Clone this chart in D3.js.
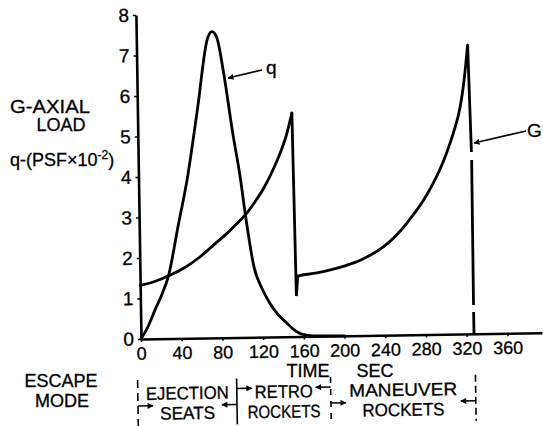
<!DOCTYPE html>
<html><head><meta charset="utf-8">
<script src="https://cdn.jsdelivr.net/npm/d3@7"></script>
<style>
html,body{margin:0;padding:0;background:#fff;}
svg{display:block;font-family:"Liberation Sans",Arial,sans-serif;}
text{fill:#000;stroke:#000;stroke-width:0.3px;}
</style></head><body>
<svg id="chart" width="543" height="426"></svg>
<script>
// ---- data ----
const xTicks = [0,40,80,120,160,200,240,280,320,360];
const yTicks = [0,1,2,3,4,5,6,7,8];
// dynamic pressure q (PSF x 10^-2) vs time (s)
const qSeries = [[0,0],[7,0.3],[14,0.7],[21,1.08],[28,1.55],[38,2.75],[48,3.95],[59,5.65],[70,7.4],[74.5,7.56],[79,7.42],[85.5,6.5],[93,5.1],[100,3.95],[105,2.92],[112,1.75],[120,1.18],[127,0.84],[135,0.55],[143.5,0.34],[150,0.18],[158,0.06],[170,0.01],[200,0]];
// G axial load vs time (s), in pieces
const gRise1 = [[0,1.32],[15,1.42],[28.4,1.55],[45,1.76],[60,2.02],[74,2.32],[85,2.55],[95,2.79],[105,3.04],[114,3.34],[123,3.68],[131,4.06],[139,4.5],[146,4.98],[151.7,5.52]];
const gDrop1 = [[151.7,5.52],[153.3,1.0],[155,1.49],[160,1.52]];
const gRise2 = [[160,1.52],[175,1.57],[190,1.65],[203,1.74],[215,1.84],[225,1.96],[236,2.12],[245,2.29],[255,2.53],[262,2.73],[269,2.95],[280,3.33],[289,3.71],[297,4.11],[303,4.47],[310,4.96],[317,5.59],[321,6.19],[325.4,7.13]];
const gDrop2 = [[325.4,7.13],[327.5,4.49],null,[327.6,4.29],[327.2,0.71],null,[327.2,0.54],[327.2,0]];
// escape-mode phases
const phaseBounds = [-4, 93.3, 185.6, 328];
const phaseTop = ["EJECTION","RETRO","MANEUVER"];
const phaseBottom = ["SEATS","ROCKETS","ROCKETS"];

// ---- drawing ----
const FONT = '"Liberation Sans", Arial, sans-serif';
const topWidths = [83, 58, 108];
const bottomWidths = [55, 73, 82];
const svg = d3.select("#chart");
const ox = 141, oy = 339, xMax = 394;
const x = d3.scaleLinear().domain([0, xMax]).range([ox, 542]);
const y = d3.scaleLinear().domain([0, 8]).range([oy, 15]);

const defs = svg.append("defs");
defs.append("marker").attr("id","ah").attr("viewBox","0 0 10 10")
  .attr("refX",9).attr("refY",5).attr("markerWidth",7).attr("markerHeight",6)
  .attr("markerUnits","userSpaceOnUse").attr("orient","auto")
  .append("path").attr("d","M0,0 L10,5 L0,10 z").attr("fill","#000");

const g = svg.append("g").attr("transform", `rotate(-0.9 ${ox} ${oy})`);

const gx = g.append("g").attr("transform", `translate(0,${oy})`)
  .call(d3.axisBottom(x).tickValues(xTicks).tickSize(3).tickSizeOuter(0).tickPadding(5));
gx.attr("font-size", 18).attr("font-family", FONT);
gx.select(".domain").attr("stroke-width", 2.6);
gx.selectAll(".tick line").attr("stroke-width", 1.5);

const gy = g.append("g").attr("transform", `translate(${ox},0)`)
  .call(d3.axisLeft(y).tickValues(yTicks).tickSize(3).tickSizeOuter(0).tickPadding(4));
gy.attr("font-size", 19).attr("font-family", FONT);
gy.select(".domain").attr("stroke-width", 2.6);
gy.selectAll(".tick line").attr("stroke-width", 1.5);

const smooth = d3.line().x(d => x(d[0])).y(d => y(d[1])).curve(d3.curveMonotoneX);
const straight = d3.line().defined(d => d).x(d => x(d[0])).y(d => y(d[1]));
const curveStyle = sel => sel.attr("fill","none").attr("stroke","#000").attr("stroke-width",2.8)
  .attr("stroke-linejoin","round").attr("stroke-linecap","round");

g.append("path").attr("d", smooth(qSeries)).call(curveStyle);
g.append("path").attr("d", smooth(gRise1)).call(curveStyle);
g.append("path").attr("d", straight(gDrop1)).call(curveStyle).attr("stroke-linejoin","miter");
g.append("path").attr("d", smooth(gRise2)).call(curveStyle);
g.append("path").attr("d", straight(gDrop2)).call(curveStyle).attr("stroke-linecap","butt");

// phases
const phases = g.append("g").attr("font-family", FONT).attr("font-size", 18);
const bDash = ["8,5", null, "6,6", "7,4"];
phaseBounds.forEach((b, i) => {
  phases.append("line").attr("x1", x(b)).attr("x2", x(b)).attr("y1", 380).attr("y2", 426)
    .attr("stroke","#000").attr("stroke-width",1.6).attr("stroke-dasharray", bDash[i]);
});
const arrowRowY = [406, 390, 406];
phaseTop.forEach((t, i) => {
  const a = x(phaseBounds[i]), b = x(phaseBounds[i+1]);
  const mid = (a + b) / 2;
  phases.append("text").attr("x", mid).attr("y", 400).attr("text-anchor","middle")
    .attr("textLength", topWidths[i]).attr("lengthAdjust","spacingAndGlyphs").text(t);
  phases.append("text").attr("x", mid).attr("y", 420).attr("text-anchor","middle")
    .attr("textLength", bottomWidths[i]).attr("lengthAdjust","spacingAndGlyphs").text(phaseBottom[i]);
  const ay = arrowRowY[i];
  phases.append("line").attr("x1", a).attr("x2", a + 15).attr("y1", ay).attr("y2", ay)
    .attr("stroke","#000").attr("stroke-width",1.5).attr("marker-end","url(#ah)");
  phases.append("line").attr("x1", b).attr("x2", b - 15).attr("y1", ay).attr("y2", ay)
    .attr("stroke","#000").attr("stroke-width",1.5).attr("marker-end","url(#ah)");
});

// free labels (screen coords)
const lab = svg.append("g").attr("font-family", FONT).attr("font-size", 18);
lab.append("text").attr("x", 50).attr("y", 113).attr("text-anchor","middle")
  .attr("textLength", 80).attr("lengthAdjust","spacingAndGlyphs").text("G-AXIAL");
lab.append("text").attr("x", 61).attr("y", 131).attr("text-anchor","middle").text("LOAD");
const qt = lab.append("text").attr("x", 10).attr("y", 166);
qt.append("tspan").text("q-(PSF×10");
qt.append("tspan").attr("dy", -7).attr("font-size", 12).text("-2");
qt.append("tspan").attr("dy", 7).text(")");
lab.append("text").attr("x", 61).attr("y", 387).attr("text-anchor","middle").text("ESCAPE");
lab.append("text").attr("x", 62).attr("y", 407).attr("text-anchor","middle").text("MODE");
lab.append("text").attr("x", 308).attr("y", 377).attr("text-anchor","middle").text("TIME");
lab.append("text").attr("x", 375).attr("y", 377).attr("text-anchor","middle").text("SEC");
lab.append("text").attr("x", 266).attr("y", 74).attr("font-size", 19).text("q");
lab.append("text").attr("x", 527).attr("y", 137).attr("font-size", 19).text("G");
lab.append("line").attr("x1", 262).attr("y1", 70).attr("x2", 228).attr("y2", 78)
  .attr("stroke","#000").attr("stroke-width",1.6).attr("marker-end","url(#ah)");
lab.append("line").attr("x1", 526).attr("y1", 131).attr("x2", 474).attr("y2", 143)
  .attr("stroke","#000").attr("stroke-width",1.6).attr("marker-end","url(#ah)");
</script>
</body></html>
